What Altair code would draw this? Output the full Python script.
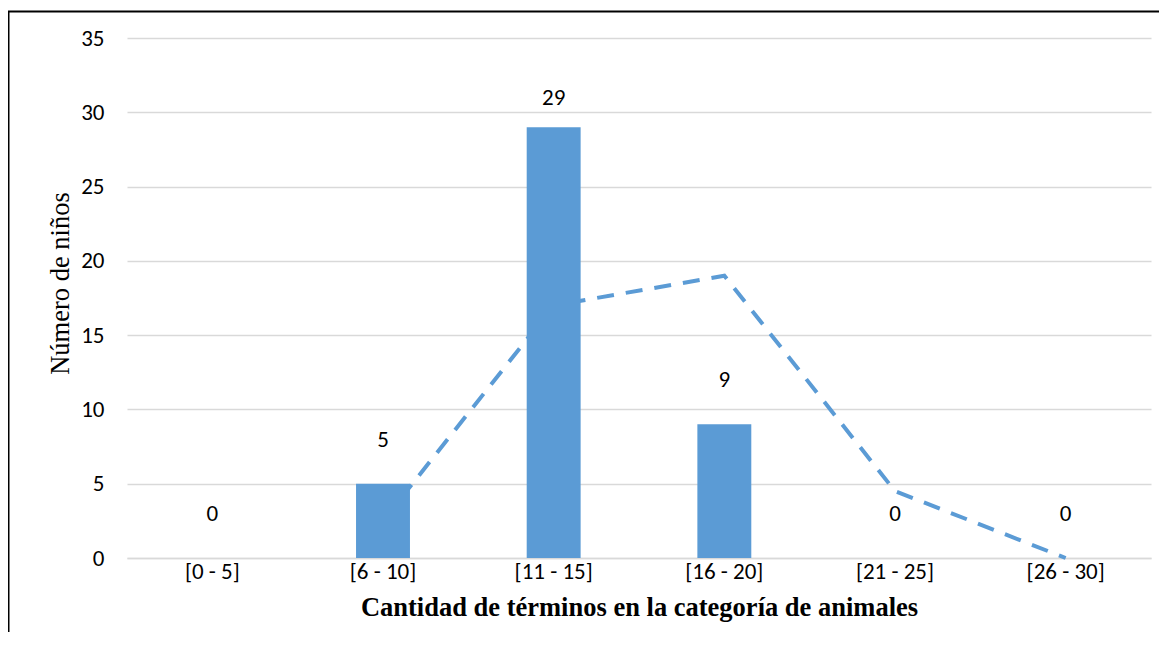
import altair as alt
import pandas as pd

categories = ["[0 - 5]", "[6 - 10]", "[11 - 15]", "[16 - 20]", "[21 - 25]", "[26 - 30]"]
counts = [0, 5, 29, 9, 0, 0]

trend_categories = ["[6 - 10]", "[11 - 15]", "[16 - 20]", "[21 - 25]", "[26 - 30]"]
trend_values = [2.5, 17, 19, 4.5, 0]

y_ticks = [0, 5, 10, 15, 20, 25, 30, 35]

bars_df = pd.DataFrame({"cat": categories, "value": counts})
trend_df = pd.DataFrame({"cat": trend_categories, "value": trend_values})

BLUE = "#5B9BD5"
GRID = "#D9D9D9"
SANS = "Carlito, Lato"
SERIF = "Liberation Serif"

x_enc = alt.X(
    "cat:N",
    sort=categories,
    scale=alt.Scale(domain=categories, paddingInner=0, paddingOuter=0),
    axis=alt.Axis(
        title="Cantidad de términos en la categoría de animales",
        labelAngle=0,
        labelFont=SANS,
        labelFontSize=23,
        labelColor="#000000",
        labelPadding=2,
        ticks=False,
        domain=True,
        domainColor=GRID,
        domainWidth=1.3,
        grid=False,
        titleFont=SERIF,
        titleFontSize=26.5,
        titleFontWeight="bold",
        titleColor="#000000",
        titleY=57,
        titleBaseline="alphabetic",
    ),
)

y_scale = alt.Scale(domain=[0, 35], nice=False)
y_axis = alt.Axis(
    title="Número de niños",
    values=y_ticks,
    labelFont=SANS,
    labelFontSize=23,
    labelColor="#000000",
    labelPadding=23,
    ticks=False,
    domain=False,
    grid=True,
    gridColor=GRID,
    gridWidth=1.3,
    titleFont=SERIF,
    titleFontSize=26.5,
    titleFontWeight="normal",
    titleColor="#000000",
    titleAngle=-90,
    titleX=-59,
    titleY=245,
    titleAlign="center",
    titleBaseline="alphabetic",
)

line = alt.Chart(trend_df).mark_line(
    color=BLUE, strokeWidth=4, strokeDash=[17, 12], strokeCap="butt"
).encode(
    x=x_enc,
    y=alt.Y("value:Q", scale=y_scale, axis=y_axis),
)

bars = alt.Chart(bars_df).mark_bar(
    color=BLUE, width=alt.RelativeBandSize(0.316)
).encode(
    x=x_enc,
    y=alt.Y("value:Q", scale=y_scale, axis=y_axis),
)

labels = alt.Chart(bars_df).transform_calculate(
    label_y="min(datum.value + 2.5, 30.5)"
).mark_text(
    font=SANS, fontSize=23, color="#000000", baseline="alphabetic", align="center"
).encode(
    x=x_enc,
    y=alt.Y("label_y:Q", scale=y_scale, axis=y_axis),
    text=alt.Text("value:Q"),
)

border_left = alt.Chart(alt.Data(values=[{"k": 1}])).mark_rule(
    color="#000000", strokeWidth=2
).encode(
    x=alt.value(-118.5), y=alt.value(-26.5), y2=alt.value(594)
)
border_top = alt.Chart(alt.Data(values=[{"k": 1}])).mark_rule(
    color="#000000", strokeWidth=2
).encode(
    x=alt.value(-119.5), x2=alt.value(1032), y=alt.value(-26.5)
)

chart = alt.layer(line, bars, labels, border_left, border_top).properties(
    width=1024,
    height=520,
    autosize=alt.AutoSizeParams(type="none"),
    padding={"left": 119, "top": 30, "right": 8, "bottom": 74},
).configure_view(stroke=None)

chart.save("out.html", embed_options={"renderer": "svg", "actions": False})
